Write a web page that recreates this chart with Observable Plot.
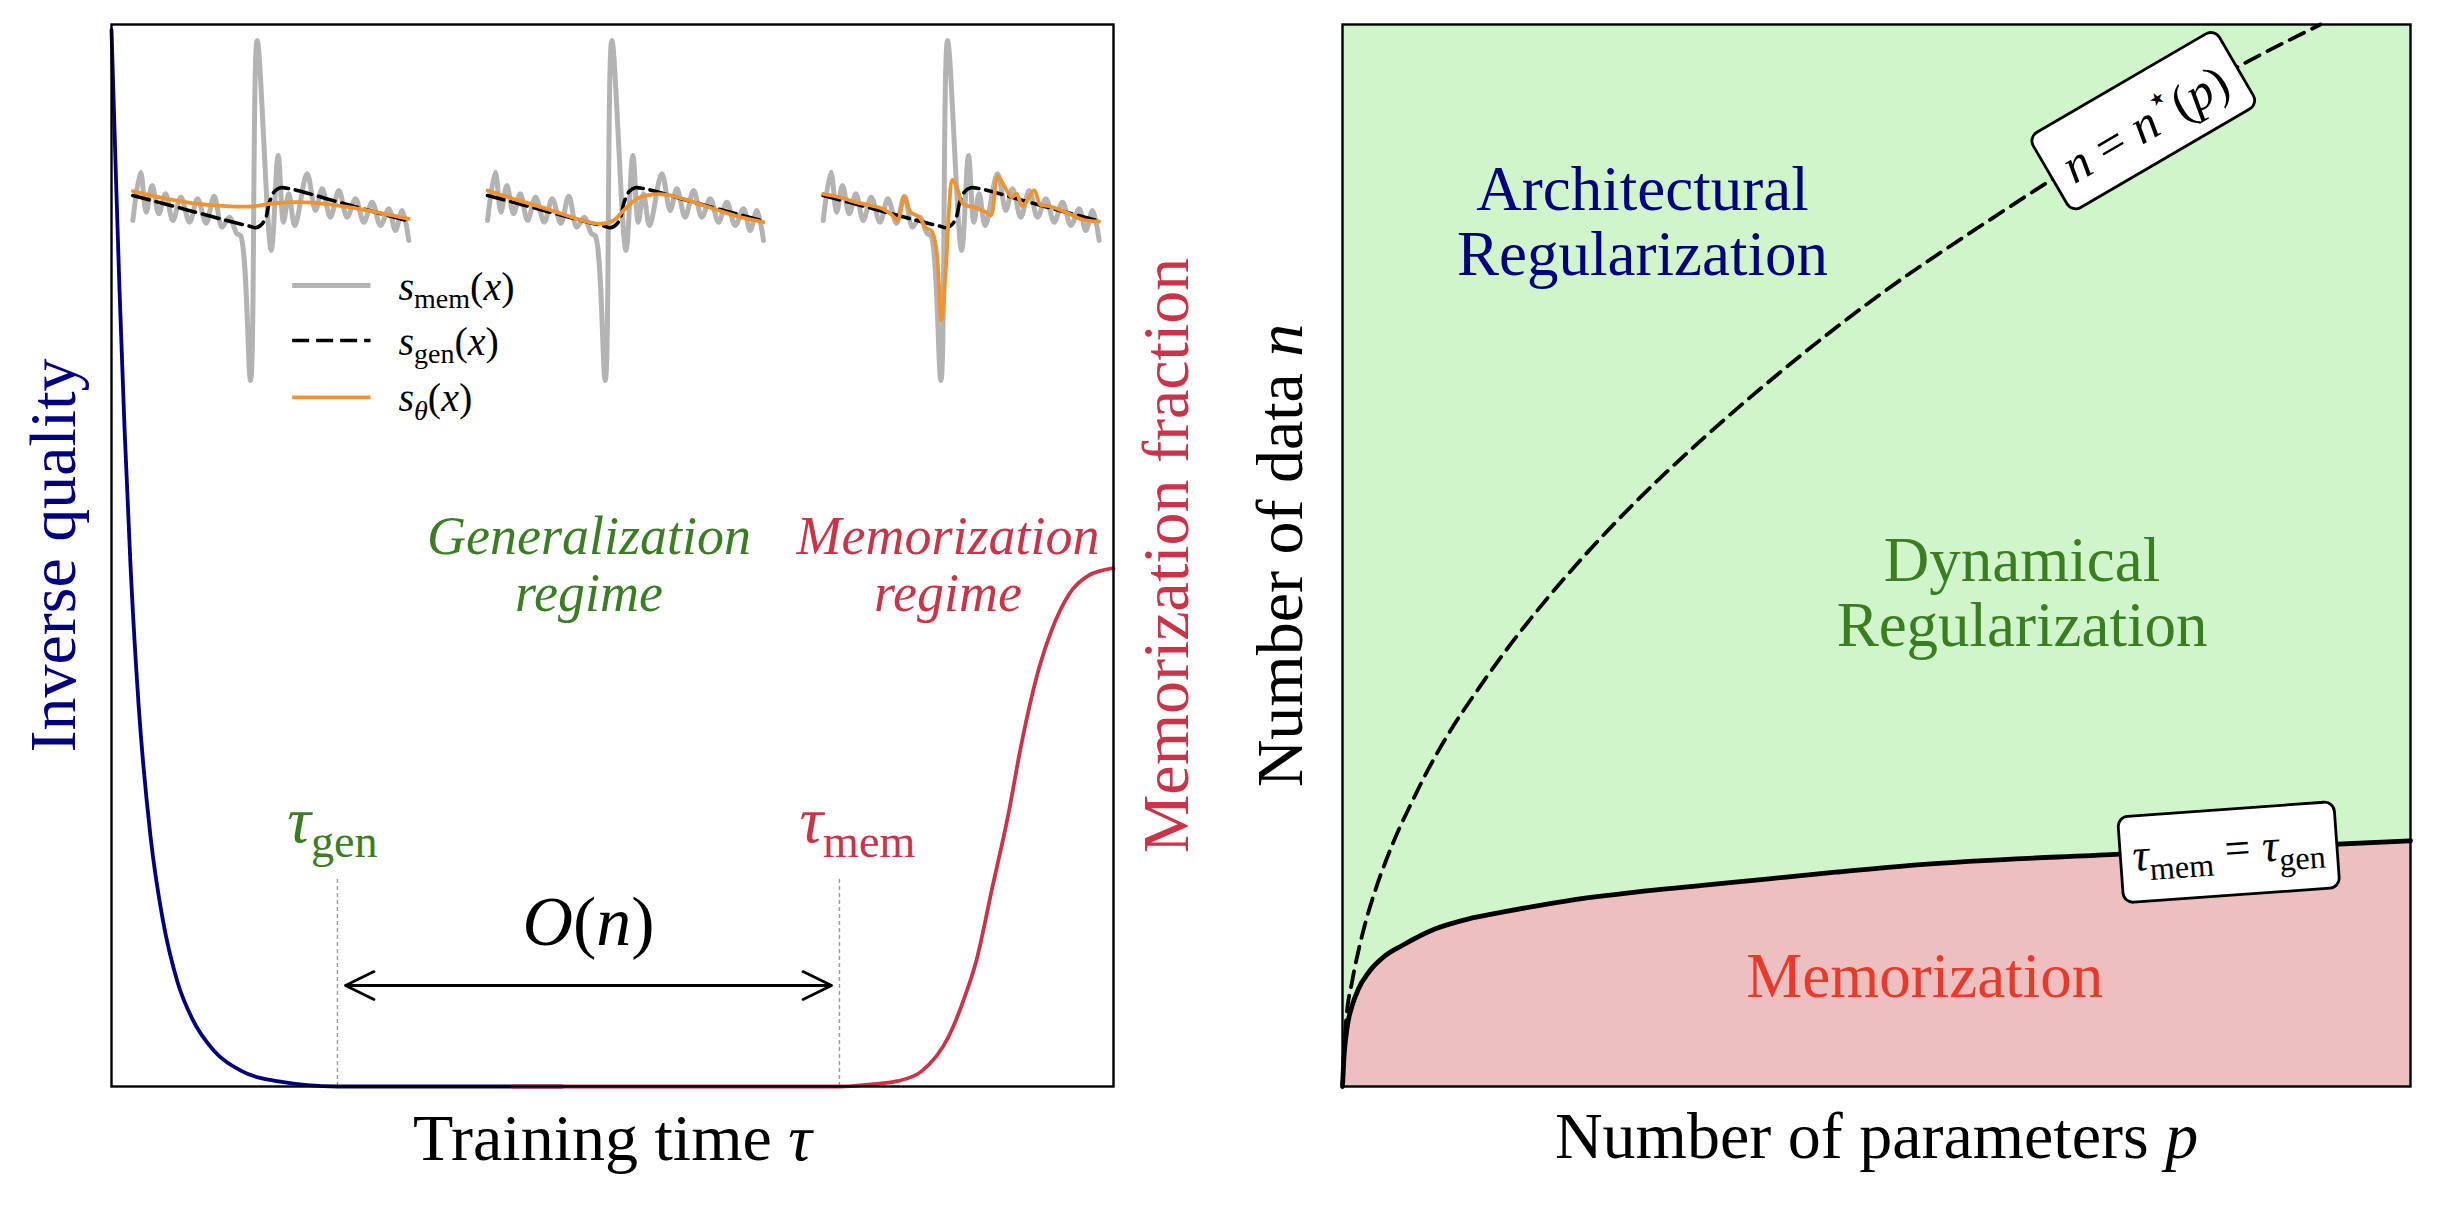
<!DOCTYPE html>
<html><head><meta charset="utf-8">
<script src="https://cdn.jsdelivr.net/npm/d3@7"></script>
<script src="https://cdn.jsdelivr.net/npm/@observablehq/plot@0.6"></script>
<style>
html,body{margin:0;padding:0;background:#fff;}
#wrap{display:flex;width:2440px;height:1210px;overflow:hidden;}
#wrap > *{flex:none;}
</style></head><body><div id="wrap"></div>
<script>
// ---------- data ----------
// Inverse quality vs training time (left panel, navy)
const tauQ    = [0, 0.004, 0.008, 0.013, 0.019, 0.027, 0.039, 0.051, 0.066, 0.081, 0.102, 0.129, 0.165, 0.226, 0.45];
const quality = [0.995, 0.87, 0.75, 0.62, 0.49, 0.36, 0.235, 0.158, 0.098, 0.063, 0.034, 0.015, 0.005, 0.0, 0.0];
// Memorization fraction vs training time (left panel, crimson)
const tauM    = [0.40, 0.727, 0.758, 0.784, 0.808, 0.836, 0.851, 0.863, 0.879, 0.895, 0.908, 0.926, 0.938, 0.956, 0.975, 1.0];
const memFrac = [0, 0, 0.002, 0.005, 0.014, 0.048, 0.083, 0.118, 0.187, 0.256, 0.322, 0.395, 0.429, 0.464, 0.481, 0.488];
// characteristic times
const tauGen = 0.2255, tauMem = 0.7265;
const dashTop = 0.197;
const spanArrow = [0.2335, 0.7186], spanArrowY = 0.0951;

// inset score functions (x in [-1,1], s in arbitrary units)
const memX = [-1.00,-0.944,-0.903,-0.860,-0.812,-0.763,-0.710,-0.652,-0.589,-0.531,-0.469,-0.411,-0.353,-0.300,-0.246,-0.220,-0.147,-0.099,0.003,0.053,0.092,0.130,0.174,0.263,0.324,0.372,0.432,0.493,0.553,0.614,0.674,0.734,0.795,0.855,0.903,0.952,1.00];
const memS = [-0.10,1.35,0.15,0.95,0.10,0.70,-0.10,0.60,-0.15,0.55,-0.18,0.63,-0.30,0.00,-0.50,-0.55,-4.90,5.30,-1.00,1.85,-0.15,0.70,-0.25,1.30,0.20,0.85,0.00,0.80,0.00,0.55,-0.15,0.45,-0.25,0.25,-0.40,0.20,-0.70];
const genX = [-1.00,-0.60,-0.256,-0.147,-0.111,-0.075,-0.039,-0.010,0.029,0.070,0.130,0.560,1.00];
const genS = [0.65,0.21,-0.17,-0.28,-0.32,-0.25,-0.05,0.45,0.78,0.88,0.86,0.37,-0.12];
const th1X = [-1.00,-0.812,-0.570,-0.329,-0.135,0.034,0.203,0.396,0.638,1.00];
const th1S = [0.78,0.60,0.42,0.33,0.32,0.42,0.45,0.40,0.25,-0.05];
const th2X = [-1.00,-0.812,-0.570,-0.329,-0.184,-0.087,-0.014,0.082,0.203,0.300,0.444,0.638,0.831,1.00];
const th2S = [0.80,0.55,0.25,-0.08,-0.20,-0.10,0.20,0.55,0.68,0.67,0.52,0.25,0.00,-0.15];
const th3X = [-1.00,-0.884,-0.763,-0.570,-0.498,-0.461,-0.413,-0.365,-0.304,-0.256,-0.213,-0.179,-0.143,-0.106,-0.087,-0.063,-0.027,0.014,0.106,0.179,0.215,0.266,0.319,0.367,0.403,0.444,0.529,0.572,0.638,0.758,0.879,1.00];
const th3S = [0.70,0.60,0.45,0.25,0.05,-0.10,0.60,0.15,0.00,-0.32,-0.42,-1.00,-3.10,-1.20,0.30,1.12,0.85,0.40,0.28,0.15,0.05,1.22,0.88,0.60,0.70,0.32,0.80,0.38,0.33,0.15,-0.07,-0.13];
const legendLabels = ["s_mem(x)", "s_gen(x)", "s_θ(x)"];

// right panel: phase diagram
const pStar = [0, 0.0028, 0.0094, 0.015, 0.0225, 0.0318, 0.0468, 0.0655, 0.0805, 0.101, 0.1255, 0.1526, 0.1863, 0.272, 0.3375, 0.425, 0.505, 0.585, 0.658, 0.8436, 0.9157];
const nStar = [0, 0.055, 0.101, 0.128, 0.158, 0.188, 0.228, 0.269, 0.299, 0.335, 0.372, 0.410, 0.453, 0.548, 0.610, 0.685, 0.747, 0.802, 0.850, 0.963, 1.0];
const pB = [0, 0.0012, 0.0044, 0.0091, 0.015, 0.0246, 0.0403, 0.0559, 0.0871, 0.1183, 0.1495, 0.2119, 0.2743, 0.3368, 0.3992, 0.4616, 0.5412, 0.7238, 1.0];
const nB = [0, 0.0245, 0.0558, 0.0763, 0.092, 0.1076, 0.1234, 0.1328, 0.1485, 0.1579, 0.1641, 0.1751, 0.183, 0.1893, 0.1956, 0.2018, 0.209, 0.2186, 0.2314];

// ---------- styles ----------
const NAVY="#000080", CRIMSON="#cc3347", GREEN="#3a7d22", ORANGE="#f0922f", GRAY="#b3b3b3",
      RED="#e8392b", FILLG="#d0f5cb", FILLP="#eebfbf";
const FONT = "'Liberation Serif','Times New Roman',serif";

const zip = (xs, ys) => xs.map((x, i) => ({x, y: ys[i]}));

// inset placement inside the left panel (layout)
const miniCenters = [0.159, 0.513, 0.848];
const miniHalf = 0.1377, miniBase = 0.8186, miniUnit = 0.03139;
const toMini = (xs, ss, k) => xs.map((x, i) => ({x: miniCenters[k] + x * miniHalf, y: miniBase + ss[i] * miniUnit}));
const thetas = [[th1X, th1S], [th2X, th2S], [th3X, th3S]];

const miniMarks = [];
for (let k = 0; k < 3; k++) {
  miniMarks.push(Plot.line(toMini(memX, memS, k), {x: "x", y: "y", stroke: GRAY, strokeWidth: 5, curve: "catmull-rom"}));
}
for (let k = 0; k < 3; k++) {
  miniMarks.push(Plot.line(toMini(genX, genS, k), {x: "x", y: "y", stroke: "black", strokeWidth: 3.6, strokeDasharray: "17,7", curve: "catmull-rom"}));
  miniMarks.push(Plot.line(toMini(thetas[k][0], thetas[k][1], k), {x: "x", y: "y", stroke: ORANGE, strokeWidth: 3.8, curve: "catmull-rom"}));
}

// legend layout
const legX0 = 0.1803, legX1 = 0.2585, legTextX = 0.2864;
const legY = [0.7542, 0.7024, 0.6488];
const legStyles = [
  {stroke: GRAY, strokeWidth: 5},
  {stroke: "black", strokeWidth: 3.6, strokeDasharray: "17,7"},
  {stroke: ORANGE, strokeWidth: 3.8}
];
const legendMarks = legendLabels.flatMap((lab, i) => [
  Plot.link([lab], {x1: legX0, x2: legX1, y1: legY[i], y2: legY[i], ...legStyles[i]}),
  Plot.text([lab], {x: legTextX, y: legY[i], text: d => d, textAnchor: "start", lineAnchor: "bottom", dy: 14, fontSize: 40, fill: "black"})
]);

const mid = (spanArrow[0] + spanArrow[1]) / 2;
const arrows = [{x1: mid, x2: spanArrow[0]}, {x1: mid, x2: spanArrow[1]}];

const left = Plot.plot({
  width: 1230, height: 1210,
  marginLeft: 111, marginRight: 117, marginTop: 24, marginBottom: 124,
  x: {domain: [0, 1], axis: null},
  y: {domain: [0, 1], axis: null},
  style: {fontFamily: FONT, background: "white", overflow: "visible"},
  marks: [
    ...miniMarks,
    ...legendMarks,
    Plot.ruleX([tauGen, tauMem], {x: d => d, y1: 0, y2: dashTop, stroke: "#999", strokeWidth: 1.4, strokeDasharray: "4,3"}),
    Plot.line(zip(tauQ, quality), {x: "x", y: "y", stroke: NAVY, strokeWidth: 3.8, curve: "monotone-x"}),
    Plot.line(zip(tauM, memFrac), {x: "x", y: "y", stroke: CRIMSON, strokeWidth: 3.8, curve: "monotone-x"}),
    Plot.arrow(arrows, {x1: "x1", x2: "x2", y1: spanArrowY, y2: spanArrowY, stroke: "black", strokeWidth: 2.8, headLength: 17, headAngle: 52}),
    Plot.text(["O(n)"], {x: mid, y: 0.1328, text: d => d, fontSize: 70, lineAnchor: "bottom", fill: "black"}),
    Plot.text(["τ_gen"], {x: tauGen, y: 0.2298, dx: -5, text: d => d, fontSize: 66, lineAnchor: "bottom", fill: GREEN}),
    Plot.text(["τ_mem"], {x: tauMem, y: 0.2298, dx: 18, text: d => d, fontSize: 66, lineAnchor: "bottom", fill: CRIMSON}),
    Plot.text(["Generalization\nregime"], {x: 0.4766, y: 0.4482, text: d => d, fontSize: 54, fontStyle: "italic", lineAnchor: "bottom", lineHeight: 1.055, fill: GREEN}),
    Plot.text(["Memorization\nregime"], {x: 0.8348, y: 0.4482, text: d => d, fontSize: 54, fontStyle: "italic", lineAnchor: "bottom", lineHeight: 1.055, fill: CRIMSON}),
    Plot.text(["Training time τ"], {text: d => d, frameAnchor: "bottom", dy: 73, lineAnchor: "bottom", textAnchor: "middle", fontSize: 66, fill: "black"}),
    Plot.text(["Inverse quality"], {text: d => d, frameAnchor: "left", dx: -37, rotate: -90, lineAnchor: "bottom", textAnchor: "middle", fontSize: 66, fill: NAVY}),
    Plot.text(["Memorization fraction"], {text: d => d, frameAnchor: "right", dx: 74, rotate: -90, lineAnchor: "bottom", textAnchor: "middle", fontSize: 66, fill: CRIMSON}),
    Plot.frame({stroke: "black", strokeWidth: 2.4})
  ]
});

const right = Plot.plot({
  width: 1210, height: 1210,
  marginLeft: 112, marginRight: 30, marginTop: 24, marginBottom: 124,
  x: {domain: [0, 1], axis: null},
  y: {domain: [0, 1], axis: null},
  style: {fontFamily: FONT, background: "white", overflow: "visible"},
  marks: [
    Plot.frame({fill: FILLG, stroke: null}),
    Plot.areaY(zip(pB, nB), {x: "x", y: "y", fill: FILLP, curve: "monotone-x"}),
    Plot.line(zip(pStar, nStar), {x: "x", y: "y", stroke: "black", strokeWidth: 3.8, strokeDasharray: "16,9", curve: "monotone-x"}),
    Plot.line(zip(pB, nB), {x: "x", y: "y", stroke: "black", strokeWidth: 4.8, curve: "monotone-x"}),
    Plot.text(["Architectural\nRegularization"], {x: 0.2809, y: 0.764, text: d => d, fontSize: 63, lineAnchor: "bottom", lineHeight: 1.03, fill: NAVY}),
    Plot.text(["Dynamical\nRegularization"], {x: 0.6363, y: 0.4148, text: d => d, fontSize: 63, lineAnchor: "bottom", lineHeight: 1.03, fill: GREEN}),
    Plot.text(["Memorization"], {x: 0.5452, y: 0.0842, text: d => d, fontSize: 63, lineAnchor: "bottom", fill: RED}),
    Plot.text(["n = n⋆(p)"], {x: 0.7519, y: 0.9058, text: d => d, fontSize: 50, rotate: -30.2, lineAnchor: "middle", textAnchor: "middle", fill: "black"}),
    Plot.text(["τ_mem = τ_gen"], {x: 0.8296, y: 0.2232, text: d => d, fontSize: 46, rotate: -4.1, lineAnchor: "middle", textAnchor: "middle", fill: "black"}),
    Plot.text(["Number of parameters p"], {text: d => d, frameAnchor: "bottom", dy: 71, lineAnchor: "bottom", textAnchor: "middle", fontSize: 66, fill: "black"}),
    Plot.text(["Number of data n"], {text: d => d, frameAnchor: "left", dx: -41, rotate: -90, lineAnchor: "bottom", textAnchor: "middle", fontSize: 66, fill: "black"}),
    Plot.frame({stroke: "black", strokeWidth: 2.4})
  ]
});

const wrap = document.getElementById("wrap");
wrap.appendChild(left);
wrap.appendChild(right);

// ---------- rich text (italics, sub/superscripts) and label boxes ----------
const IT = {it: true}, SUB = {sub: true}, SUP = {sup: true}, SUBIT = {sub: true, it: true};
const RICH = {
  "Training time τ": [["Training time "], ["τ", IT]],
  "Number of parameters p": [["Number of parameters "], ["p", IT]],
  "Number of data n": [["Number of data "], ["n", IT]],
  "τ_gen": [["τ", IT], ["gen", SUB]],
  "τ_mem": [["τ", IT], ["mem", SUB]],
  "O(n)": [["O", IT], ["("], ["n", IT], [")"]],
  "s_mem(x)": [["s", IT], ["mem", SUB], ["("], ["x", IT], [")"]],
  "s_gen(x)": [["s", IT], ["gen", SUB], ["("], ["x", IT], [")"]],
  "s_θ(x)": [["s", IT], ["θ", SUBIT], ["("], ["x", IT], [")"]],
  "τ_mem = τ_gen": [["τ", IT], ["mem", SUB], [" = "], ["τ", IT], ["gen", SUB]],
  "n = n⋆(p)": [["n", IT], [" = "], ["n", IT], ["⋆", SUP], ["("], ["p", IT], [")"]]
};
const BOXPAD = {"τ_mem = τ_gen": [12, 14], "n = n⋆(p)": [16, 12]};
const NS = "http://www.w3.org/2000/svg";
function finish(svg) {
  svg.querySelectorAll("text").forEach(el => {
    const key = el.textContent;
    const segs = RICH[key];
    if (!segs) return;
    const fs = parseFloat(getComputedStyle(el).fontSize) || 16;
    el.textContent = "";
    let shift = 0;
    for (const [s, st = {}] of segs) {
      const t = document.createElementNS(NS, "tspan");
      t.textContent = s;
      let target = 0, size = fs;
      if (st.sub) { target = 0.22 * fs; size = 0.7 * fs; }
      if (st.sup) { target = -0.42 * fs; size = 0.7 * fs; }
      t.setAttribute("font-style", st.it ? "italic" : "normal");
      if (size !== fs) t.setAttribute("font-size", size);
      const d = target - shift;
      if (d) t.setAttribute("dy", d);
      shift = target;
      el.appendChild(t);
    }
    if (BOXPAD[key]) {
      const b = el.getBBox();
      const [px, py] = BOXPAD[key];
      const r = document.createElementNS(NS, "rect");
      r.setAttribute("x", b.x - px);
      r.setAttribute("y", b.y - py);
      r.setAttribute("width", b.width + 2 * px);
      r.setAttribute("height", b.height + 2 * py);
      r.setAttribute("rx", 10);
      r.setAttribute("fill", "white");
      r.setAttribute("stroke", "black");
      r.setAttribute("stroke-width", 2.8);
      const tr = el.getAttribute("transform");
      if (tr) r.setAttribute("transform", tr);
      el.parentNode.insertBefore(r, el);
    }
  });
}
finish(left);
finish(right);
</script></body></html>
